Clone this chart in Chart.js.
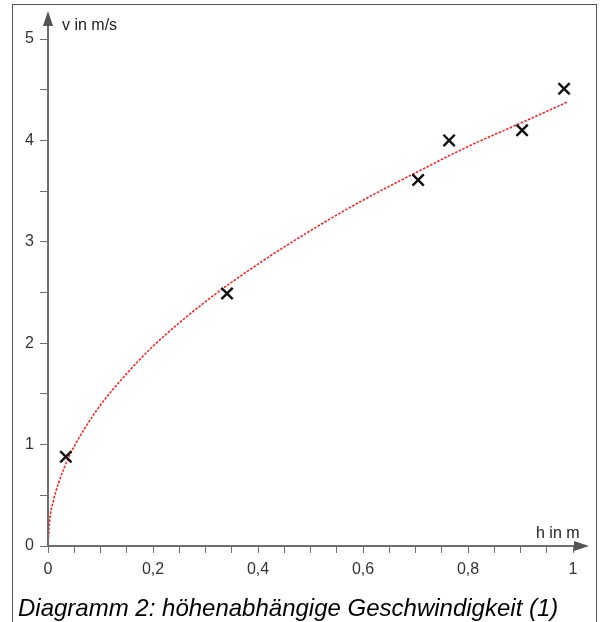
<!DOCTYPE html>
<html>
<head>
<meta charset="utf-8">
<script src="https://cdn.jsdelivr.net/npm/chart.js@4/dist/chart.umd.min.js"></script>
<style>
  html, body { margin: 0; padding: 0; background: #fff; }
  #wrap { position: relative; width: 601px; height: 622px; overflow: hidden; }
  #rahmen { position: absolute; left: 12px; top: 4px; width: 583px; height: 640px; border: 1px solid #555; }
  canvas { position: absolute; left: 0; top: 0; }
  #titel { position: absolute; left: 18px; top: 594px; font-family: "Liberation Sans", Arial, sans-serif;
           font-style: italic; font-size: 24px; color: #000; white-space: nowrap; }
</style>
</head>
<body>
<div id="wrap">
  <div id="rahmen"></div>
  <canvas id="diagramm" width="601" height="622"></canvas>
  <div id="titel">Diagramm 2: höhenabhängige Geschwindigkeit (1)</div>
</div>
<script>
// Messwerte
const hWerte = [0.034, 0.341, 0.705, 0.764, 0.903, 0.983];
const vWerte = [0.88, 2.49, 3.61, 4.00, 4.10, 4.51];

// Ausgleichskurve (rote gestrichelte Linie)
const kurveH = [0, 0.003, 0.01, 0.02, 0.04, 0.07, 0.1, 0.15, 0.2, 0.3, 0.4, 0.5, 0.6, 0.7, 0.8, 0.9, 0.99];
const kurveV = [0, 0.24, 0.44, 0.62, 0.88, 1.16, 1.39, 1.70, 1.97, 2.41, 2.78, 3.11, 3.41, 3.68, 3.94, 4.17, 4.38];

const xTickLabels = ['0', '0,2', '0,4', '0,6', '0,8', '1'];
const yTickLabels = ['0', '1', '2', '3', '4', '5'];

const achsenFarbe = '#6e6e6e';
const schrift = "'Liberation Sans', Arial, sans-serif";

// Achsen mit Pfeilen und Beschriftung
const achsenPlugin = {
  id: 'achsen',
  afterDraw(chart) {
    const c = chart.ctx;
    const xs = chart.scales.x, ys = chart.scales.y;
    const x0 = xs.getPixelForValue(0), y0 = ys.getPixelForValue(0);
    c.save();
    c.strokeStyle = achsenFarbe;
    c.fillStyle = '#555';
    c.lineWidth = 2;
    c.beginPath();
    c.moveTo(x0, y0 + 1); c.lineTo(x0, 24);
    c.moveTo(x0 - 1, y0); c.lineTo(576, y0);
    c.stroke();
    // Pfeile
    c.beginPath();
    c.moveTo(x0, 11); c.lineTo(x0 - 5, 26); c.lineTo(x0 + 5, 26); c.closePath(); c.fill();
    c.beginPath();
    c.moveTo(589, y0); c.lineTo(574, y0 - 5); c.lineTo(574, y0 + 5); c.closePath(); c.fill();
    // Achsentitel
    c.fillStyle = '#222';
    c.font = '16px ' + schrift;
    c.textBaseline = 'alphabetic';
    c.fillText('v in m/s', 62, 30);
    c.fillText('h in m', 536, 538);
    c.restore();
  }
};

new Chart(document.getElementById('diagramm'), {
  type: 'scatter',
  data: {
    datasets: [{
      label: 'Kurve',
      data: kurveH.map((h, i) => ({ x: h, y: kurveV[i] })),
      showLine: true,
      borderColor: '#ff2020',
      borderWidth: 1.6,
      borderDash: [2.5, 1.5],
      pointRadius: 0,
      cubicInterpolationMode: 'monotone',
      order: 2
    }, {
      label: 'Messwerte',
      data: hWerte.map((h, i) => ({ x: h, y: vWerte[i] })),
      pointStyle: 'crossRot',
      pointRadius: 8,
      borderColor: '#111',
      borderWidth: 2.4,
      order: 1
    }]
  },
  options: {
    responsive: false,
    animation: false,
    layout: { padding: { top: 39, right: 28, bottom: 0, left: 0 } },
    plugins: { legend: { display: false }, tooltip: { enabled: false } },
    scales: {
      x: {
        type: 'linear', min: 0, max: 1,
        afterFit: s => { s.height = 76; },
        border: { display: false },
        grid: { drawOnChartArea: false, drawTicks: true, tickLength: 7, color: achsenFarbe, lineWidth: 1 },
        ticks: {
          stepSize: 0.05, autoSkip: false, maxRotation: 0, padding: 7,
          color: '#333', font: { family: schrift, size: 16 },
          callback: v => {
            const i = Math.round(v * 20);
            return i % 4 === 0 ? xTickLabels[i / 4] : '';
          }
        }
      },
      y: {
        type: 'linear', min: 0, max: 5,
        afterFit: s => { s.width = 48; },
        border: { display: false },
        grid: { drawOnChartArea: false, drawTicks: true, tickLength: 8, color: achsenFarbe, lineWidth: 1 },
        ticks: {
          stepSize: 0.5, autoSkip: false, padding: 6,
          color: '#333', font: { family: schrift, size: 16 },
          callback: v => {
            const i = Math.round(v * 2);
            return i % 2 === 0 ? yTickLabels[i / 2] : '';
          }
        }
      }
    }
  },
  plugins: [achsenPlugin]
});
</script>
</body>
</html>
